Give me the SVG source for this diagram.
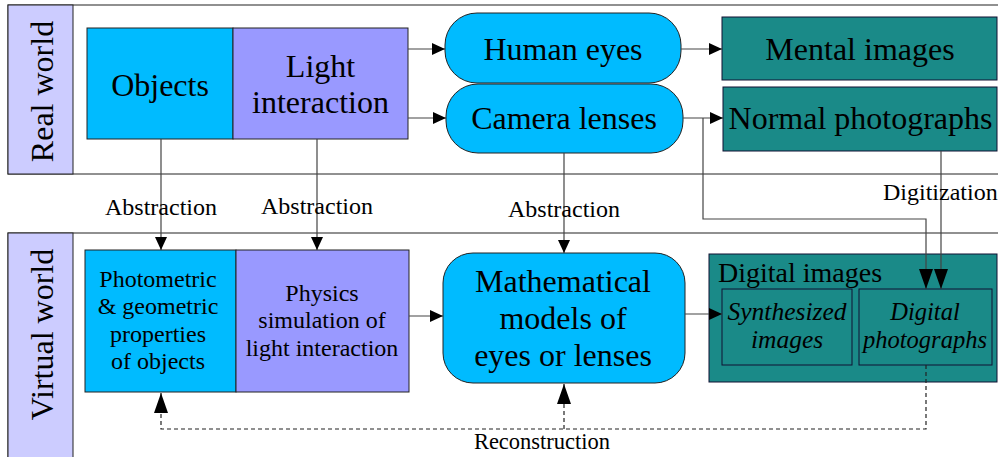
<svg xmlns="http://www.w3.org/2000/svg" width="998" height="457" viewBox="0 0 998 457">
<style>
.band{fill:#ffffff;stroke:#222;stroke-width:1}
.lab{fill:#ccccff;stroke:#222;stroke-width:1}
.obj{fill:#00bbff;stroke:#222;stroke-width:1}
.lit{fill:#9999ff;stroke:#222;stroke-width:1}
.teal{fill:#1a8a88;stroke:#113;stroke-width:1}
text{font-family:'Liberation Serif','Times New Roman',serif;fill:#000;text-anchor:middle}
.c{fill:none;stroke:#444;stroke-width:1.2}
.d{fill:none;stroke:#222;stroke-width:1.2;stroke-dasharray:4 3}
</style>
<defs>
<marker id="ah" viewBox="0 0 13 12" refX="13" refY="6" markerWidth="13" markerHeight="12" markerUnits="userSpaceOnUse" orient="auto">
<path d="M0,0 L13,6 L0,12 Z" fill="#000"/>
</marker>
<marker id="al" viewBox="0 0 20 14" refX="20" refY="7" markerWidth="20" markerHeight="14" markerUnits="userSpaceOnUse" orient="auto">
<path d="M0,0 L20,7 L0,14 Z" fill="#000"/>
</marker>
</defs>
<rect width="998" height="457" fill="#ffffff"/>

<g id="real-world">
<rect class="band" x="8" y="5" width="1000" height="169"/>
<rect class="lab" x="8" y="5" width="65" height="169"/>
<text font-family="Liberation Serif, serif" font-size="32" transform="translate(53,91.5) rotate(-90)">Real world</text>
</g>
<g id="virtual-world">
<rect class="band" x="8" y="233" width="1000" height="240"/>
<rect class="lab" x="8" y="233" width="65" height="240"/>
<text font-family="Liberation Serif, serif" font-size="32" transform="translate(53,334.5) rotate(-90)">Virtual world</text>
</g>

<g id="objects">
<rect class="obj" x="87" y="28" width="146" height="111"/>
<text font-family="Liberation Serif, serif" font-size="32" x="160" y="96">Objects</text>
</g>
<g id="light-interaction">
<rect class="lit" x="233" y="28" width="175" height="111"/>
<text font-family="Liberation Serif, serif" font-size="32" x="320.5" y="77">Light</text>
<text font-family="Liberation Serif, serif" font-size="32" x="320.5" y="113">interaction</text>
</g>
<g id="human-eyes">
<rect class="obj" x="445" y="13" width="236" height="70" rx="32" ry="32"/>
<text font-family="Liberation Serif, serif" font-size="32" x="563" y="60">Human eyes</text>
</g>
<g id="camera-lenses">
<rect class="obj" x="446" y="84" width="237" height="69" rx="32" ry="32"/>
<text font-family="Liberation Serif, serif" font-size="32" x="564" y="129">Camera lenses</text>
</g>
<g id="mental-images">
<rect class="teal" x="722" y="17" width="275" height="63"/>
<text font-family="Liberation Serif, serif" font-size="32" x="860" y="60">Mental images</text>
</g>
<g id="normal-photographs">
<rect class="teal" x="723" y="87" width="274" height="64"/>
<text font-family="Liberation Serif, serif" font-size="32" x="860.5" y="129">Normal photographs</text>
</g>

<g id="photometric">
<rect class="obj" x="85" y="250" width="151" height="142"/>
<text font-family="Liberation Serif, serif" font-size="24" x="158" y="287">Photometric</text>
<text font-family="Liberation Serif, serif" font-size="24" x="158" y="314">&amp; geometric</text>
<text font-family="Liberation Serif, serif" font-size="24" x="158" y="342">properties</text>
<text font-family="Liberation Serif, serif" font-size="24" x="158" y="369">of objects</text>
</g>
<g id="physics-simulation">
<rect class="lit" x="236" y="250" width="173" height="142"/>
<text font-family="Liberation Serif, serif" font-size="24" x="322" y="301">Physics</text>
<text font-family="Liberation Serif, serif" font-size="24" x="322" y="328">simulation of</text>
<text font-family="Liberation Serif, serif" font-size="24" x="322" y="356">light interaction</text>
</g>
<g id="math-models">
<rect class="obj" x="443" y="253" width="242" height="130" rx="30" ry="30"/>
<text font-family="Liberation Serif, serif" font-size="32" x="563" y="292">Mathematical</text>
<text font-family="Liberation Serif, serif" font-size="32" x="563" y="329">models of</text>
<text font-family="Liberation Serif, serif" font-size="32" x="563" y="366">eyes or lenses</text>
</g>
<g id="digital-images">
<rect class="teal" x="709" y="254" width="288" height="128"/>
<text font-family="Liberation Serif, serif" font-size="28" x="718" y="282" text-anchor="start" style="text-anchor:start">Digital images</text>
</g>
<g id="synthesized-images">
<rect class="teal" x="722" y="289" width="130" height="76"/>
<text font-family="Liberation Serif, serif" font-size="25.5" font-style="italic" x="787" y="320">Synthesized</text>
<text font-family="Liberation Serif, serif" font-size="25.5" font-style="italic" x="787" y="348">images</text>
</g>
<g id="digital-photographs">
<rect class="teal" x="859" y="289" width="133" height="76"/>
<text font-family="Liberation Serif, serif" font-size="24.5" font-style="italic" x="925" y="320">Digital</text>
<text font-family="Liberation Serif, serif" font-size="24.5" font-style="italic" x="925" y="348">photographs</text>
</g>

<g id="connectors">
<line class="c" x1="161" y1="139" x2="161" y2="250" marker-end="url(#ah)"/>
<line class="c" x1="317" y1="139" x2="317" y2="250" marker-end="url(#ah)"/>
<line class="c" x1="564" y1="153" x2="564" y2="253" marker-end="url(#ah)"/>
<line class="c" x1="408" y1="49" x2="445" y2="49" marker-end="url(#ah)"/>
<line class="c" x1="408" y1="118" x2="446" y2="118" marker-end="url(#ah)"/>
<line class="c" x1="681" y1="49" x2="722" y2="49" marker-end="url(#ah)"/>
<line class="c" x1="683" y1="118" x2="723" y2="118" marker-end="url(#ah)"/>
<polyline class="c" points="703,118 703,219 926,219 926,289" marker-end="url(#al)"/>
<line class="c" x1="941" y1="151" x2="941" y2="289" marker-end="url(#al)"/>
<line class="c" x1="409" y1="316" x2="443" y2="316" marker-end="url(#ah)"/>
<line class="c" x1="685" y1="314" x2="722" y2="314" marker-end="url(#ah)"/>
<polyline class="d" points="926,365 926,429 161,429 161,393" marker-end="url(#al)"/>
<line class="d" x1="564" y1="429" x2="564" y2="384" marker-end="url(#al)"/>
<text font-family="Liberation Serif, serif" font-size="24" x="161" y="215">Abstraction</text>
<text font-family="Liberation Serif, serif" font-size="24" x="317" y="214">Abstraction</text>
<text font-family="Liberation Serif, serif" font-size="24" x="564" y="217">Abstraction</text>
<text font-family="Liberation Serif, serif" font-size="24" x="883" y="200" text-anchor="start" style="text-anchor:start">Digitization</text>
<text font-family="Liberation Serif, serif" font-size="22.5" x="542" y="449">Reconstruction</text>
</g>
</svg>
